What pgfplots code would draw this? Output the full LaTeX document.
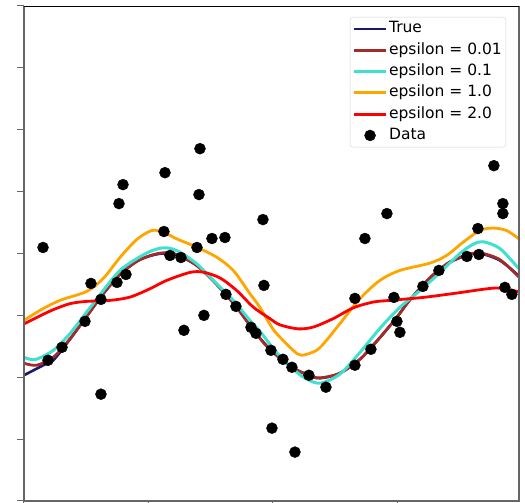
\documentclass[border=0pt]{standalone}
\usepackage{fontspec}
\setmainfont{DejaVu Sans}
\usepackage{pgfplots}
\pgfplotsset{compat=1.18}

\definecolor{truecol}{HTML}{191970}
\definecolor{epsA}{HTML}{A52A2A}
\definecolor{epsB}{HTML}{40E0D0}
\definecolor{epsC}{HTML}{FFA500}
\definecolor{epsD}{HTML}{FF0000}
\definecolor{spine}{HTML}{666666}

\pgfplotsset{
    longline/.style={legend image code/.code={\draw[mark repeat=2,mark phase=2,##1] plot coordinates {(0bp,0bp) (16bp,0bp) (32bp,0bp)};}},
    datalegend/.style={only marks, mark=*, mark size=5.5bp, black, longline},
}

\begin{document}
\begin{tikzpicture}
\begin{axis}[
    scale only axis,
    width=495bp, height=495bp,
    xmin=0, xmax=9.95,
    ymin=-3, ymax=5,
    xtick={0,2.5,5,7.5},
    ytick={-3,-2,-1,0,1,2,3,4,5},
    xticklabels={}, yticklabels={},
    tick pos=left,
    tick align=outside,
    major tick length=7bp,
    major tick style={draw=spine, line width=1bp},
    axis line style={draw=none},
    longline,
    legend cell align=left,
    legend style={
        at={(1,1)}, anchor=north east, xshift=-13bp, yshift=-11bp,
        draw=gray!35, fill=white, rounded corners=3bp,
        font=\fontsize{15.5bp}{18bp}\selectfont,
        inner xsep=2.5bp, inner ysep=2.75bp,
        row sep=3.3bp,
        nodes={inner sep=1.5bp, text height=11.5bp, text depth=3.5bp},
        /tikz/every even column/.append style={column sep=7bp}
    },
]
% data points (drawn first, under the curves)
\addplot[only marks, mark=*, mark size=5.5bp, black, forget plot] coordinates {
(0.382,1.097) (0.482,-0.726) (0.764,-0.516) (1.226,-0.097) (1.346,0.516)
(1.547,0.258) (1.547,-1.274) (1.869,0.532) (1.909,1.806) (1.990,2.113)
(2.050,0.661) (2.813,1.355) (2.834,2.306) (2.934,0.968) (3.155,0.935)
(3.215,-0.242) (3.477,1.097) (3.517,1.952) (3.537,2.694) (3.617,0.000)
(3.778,1.242) (4.039,1.258) (4.059,0.339) (4.260,0.145) (4.562,-0.194)
(4.662,-0.290) (4.803,1.548) (4.823,0.484) (4.964,-0.565) (4.984,-1.823)
(5.205,-0.710) (5.386,-0.839) (5.446,-2.210) (5.727,-0.968) (6.069,-1.161)
(6.652,0.274) (6.652,-0.806) (6.853,1.242) (6.973,-0.548) (7.295,1.645)
(7.436,0.290) (7.496,-0.097) (7.556,-0.274) (8.018,0.468) (8.340,0.726)
(8.903,0.952) (9.124,1.403) (9.144,0.984) (9.445,2.419) (9.626,1.806)
(9.626,1.645) (9.666,0.452) (9.807,0.339)
};

% True
\addplot[truecol, line width=2.6bp, smooth] coordinates {
(0,-0.968) (0.389,-0.806) (0.589,-0.726) (0.924,-0.387) (1.260,-0.016)
(1.594,0.350) (1.929,0.661) (2.265,0.871) (2.532,0.960) (2.793,1.000)
(3.069,0.976) (3.471,0.806) (3.873,0.500) (4.260,0.145) (4.662,-0.290)
(4.964,-0.565) (5.386,-0.839) (5.727,-0.968) (5.949,-1.016) (6.350,-0.935)
(6.752,-0.710) (6.973,-0.520) (7.154,-0.360) (7.496,-0.030) (7.757,0.250)
(8.159,0.597) (8.561,0.855) (8.903,0.968) (9.164,1.000) (9.566,0.887)
(9.948,0.637)
};
\addlegendentry{True}

% epsilon = 0.01
\addplot[epsA, line width=2.8bp, smooth] coordinates {
(0,-0.774) (0.255,-0.806) (0.589,-0.677) (0.924,-0.379) (1.260,-0.016)
(1.594,0.350) (1.929,0.661) (2.265,0.871) (2.532,0.965) (2.793,1.010)
(3.069,0.985) (3.471,0.806) (3.873,0.500) (4.260,0.145) (4.662,-0.290)
(4.964,-0.565) (5.386,-0.839) (5.727,-0.968) (5.949,-1.010) (6.350,-0.935)
(6.752,-0.710) (6.973,-0.520) (7.154,-0.360) (7.496,-0.030) (7.757,0.250)
(8.159,0.610) (8.561,0.865) (8.903,0.975) (9.164,1.010) (9.566,0.900)
(9.948,0.620)
};
\addlegendentry{epsilon = 0.01}

% epsilon = 0.1
\addplot[epsB, line width=3bp, smooth] coordinates {
(0,-0.677) (0.221,-0.715) (0.589,-0.565) (0.924,-0.295) (1.260,0.053)
(1.594,0.403) (1.929,0.726) (2.265,0.915) (2.532,1.032) (2.799,1.092)
(3.069,1.048) (3.471,0.834) (3.873,0.511) (4.206,0.242) (4.542,-0.081)
(4.743,-0.258) (4.944,-0.468) (5.145,-0.661) (5.412,-0.871) (5.654,-1.016)
(5.949,-1.097) (6.350,-0.950) (6.752,-0.600) (7.154,-0.210) (7.556,0.130)
(7.958,0.400) (8.360,0.690) (8.762,1.000) (9.030,1.150) (9.230,1.190)
(9.566,1.080) (9.948,0.753)
};
\addlegendentry{epsilon = 0.1}

% epsilon = 1.0
\addplot[epsC, line width=2.8bp, smooth] coordinates {
(0,-0.081) (0.322,0.081) (0.723,0.242) (1.260,0.387) (1.594,0.597)
(1.929,0.935) (2.265,1.225) (2.567,1.371) (2.799,1.344) (3.069,1.237)
(3.471,1.102) (3.873,0.940) (4.206,0.726) (4.542,0.350) (4.743,0.129)
(4.944,-0.145) (5.078,-0.295) (5.412,-0.565) (5.580,-0.645) (5.881,-0.565)
(6.083,-0.400) (6.350,-0.134) (6.752,0.269) (7.154,0.565) (7.556,0.726)
(8.159,0.844) (8.494,0.968) (8.828,1.182) (9.164,1.371) (9.431,1.411)
(9.700,1.371) (9.948,1.237)
};
\addlegendentry{epsilon = 1.0}

% epsilon = 2.0
\addplot[epsD, line width=2.8bp, smooth] coordinates {
(0,-0.137) (0.322,-0.008) (0.589,0.092) (0.924,0.189) (1.260,0.226)
(1.728,0.242) (2.130,0.295) (2.532,0.430) (2.868,0.565) (3.336,0.694)
(3.604,0.698) (3.939,0.605) (4.274,0.403) (4.608,0.134) (4.944,-0.053)
(5.145,-0.153) (5.506,-0.218) (5.814,-0.189) (6.215,-0.053) (6.617,0.121)
(7.019,0.215) (7.355,0.242) (8.024,0.290) (8.695,0.360) (9.365,0.435)
(9.631,0.435) (9.948,0.379)
};
\addlegendentry{epsilon = 2.0}

\addlegendimage{datalegend}
\addlegendentry{Data}
\end{axis}
% spines
\draw[spine, line width=1.6bp] (current axis.north west) -- (current axis.south west) -- (current axis.south east) -- (current axis.north east);
\draw[black, line width=0.8bp] (current axis.north west) -- (current axis.north east);
\pgfresetboundingbox
\path[use as bounding box] ([xshift=-24bp,yshift=-2bp]current axis.south west) rectangle ([xshift=6bp,yshift=6bp]current axis.north east);
\end{tikzpicture}
\end{document}
